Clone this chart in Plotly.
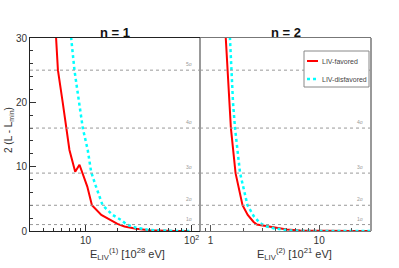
import math
import plotly.graph_objects as go

W, H = 399, 268

# ---- data ----
n1_fav_x = [5.2, 5.3, 5.5, 6.1, 6.6, 7.06, 8.0, 8.78, 10.4, 11.5, 14.1, 16.1, 20.0, 23.3, 30.0, 40.0, 50.0, 70.0, 95.0]
n1_fav_y = [32.0, 30.0, 25.0, 20.0, 16.0, 12.6, 9.2, 10.3, 6.9, 4.0, 2.5, 2.0, 1.1, 0.7, 0.35, 0.12, 0.03, 0.0, 0.0]
n1_dis_x = [7.2, 7.33, 7.87, 8.65, 9.43, 10.5, 11.3, 12.5, 14.5, 18.0, 21.7, 24.5, 30.0, 40.0, 55.0, 70.0, 95.0]
n1_dis_y = [32.0, 30.0, 25.0, 20.0, 16.0, 12.6, 9.2, 7.0, 4.0, 2.5, 1.7, 1.0, 0.5, 0.15, 0.03, 0.0, 0.0]

n2_fav_x = [1.36, 1.38, 1.43, 1.48, 1.54, 1.70, 1.97, 2.2, 2.48, 2.67, 3.0, 3.54, 4.4, 5.05, 6.7, 10.0, 20.0, 30.0]
n2_fav_y = [32.0, 30.0, 25.0, 20.0, 16.0, 9.0, 4.0, 2.5, 1.45, 1.0, 0.85, 0.67, 0.35, 0.23, 0.08, 0.02, 0.0, 0.0]
n2_dis_x = [1.49, 1.51, 1.54, 1.61, 1.68, 1.87, 2.19, 2.5, 2.86, 3.3, 3.8, 4.5, 5.4, 8.0, 15.0, 30.0]
n2_dis_y = [32.0, 30.0, 25.0, 20.0, 16.0, 9.0, 4.0, 2.3, 1.2, 0.7, 0.42, 0.2, 0.08, 0.02, 0.0, 0.0]

sigma_levels = [1, 4, 9, 16, 25]
sigma_labels = ["1σ", "2σ", "3σ", "4σ", "5σ"]

x1_range = [3, 120]
x2_range = [0.8, 30]
y_range = [0, 30]

x1_major = [10, 100]
x1_major_text = ["10", "10<sup>2</sup>"]
x1_minor = [3, 4, 5, 6, 7, 8, 9, 20, 30, 40, 50, 60, 70, 80, 90]
x2_major = [1, 10]
x2_major_text = ["1", "10"]
x2_minor = [0.9, 2, 3, 4, 5, 6, 7, 8, 9, 20, 30]

series_names = ["LIV-favored", "LIV-disfavored"]
RED = "#ff0000"
CYAN = "#00ffff"
FONT = "Liberation Sans, Arial, sans-serif"


def px(x):
    return x / W


def py(y):
    return (H - y) / H


fig = go.Figure()
fig.add_trace(go.Scatter(x=n1_fav_x, y=n1_fav_y, mode="lines", name=series_names[0],
                         line=dict(color=RED, width=2), xaxis="x", yaxis="y", showlegend=False))
fig.add_trace(go.Scatter(x=n1_dis_x, y=n1_dis_y, mode="lines", name=series_names[1],
                         line=dict(color=CYAN, width=2.5, dash="dot"), xaxis="x", yaxis="y", showlegend=False))
fig.add_trace(go.Scatter(x=n2_fav_x, y=n2_fav_y, mode="lines", name=series_names[0],
                         line=dict(color=RED, width=2), xaxis="x2", yaxis="y2", showlegend=False))
fig.add_trace(go.Scatter(x=n2_dis_x, y=n2_dis_y, mode="lines", name=series_names[1],
                         line=dict(color=CYAN, width=2.5, dash="dot"), xaxis="x2", yaxis="y2", showlegend=False))

ydom = [py(231), py(38)]
tickfont = dict(family=FONT, size=10, color="#333")

fig.update_layout(
    width=W, height=H, margin=dict(l=0, r=0, t=0, b=0, autoexpand=False), autosize=False,
    paper_bgcolor="white", plot_bgcolor="white",
    xaxis=dict(domain=[px(30), px(200)], type="log",
               range=[math.log10(x1_range[0]), math.log10(x1_range[1])],
               tickmode="array", tickvals=x1_major, ticktext=x1_major_text,
               ticks="inside", ticklen=6, tickcolor="#333", tickfont=tickfont,
               minor=dict(tickmode="array", tickvals=x1_minor, ticks="inside", ticklen=3, tickcolor="#333"),
               showline=True, linecolor="#222", linewidth=1, mirror=True,
               showgrid=False, zeroline=False, anchor="y", automargin=False),
    yaxis=dict(domain=ydom, range=y_range, dtick=10, tick0=0,
               ticks="inside", ticklen=6, tickcolor="#333", tickfont=tickfont,
               minor=dict(dtick=2, ticks="inside", ticklen=3, tickcolor="#333"),
               showline=True, linecolor="#222", linewidth=1, mirror=False,
               showgrid=False, zeroline=False, anchor="x", automargin=False),
    xaxis2=dict(domain=[px(200), px(371)], type="log",
                range=[math.log10(x2_range[0]), math.log10(x2_range[1])],
                tickmode="array", tickvals=x2_major, ticktext=x2_major_text,
                ticks="inside", ticklen=6, tickcolor="#555", tickfont=tickfont,
                minor=dict(tickmode="array", tickvals=x2_minor, ticks="inside", ticklen=3, tickcolor="#555"),
                showline=True, linecolor="#777", linewidth=1, mirror=True,
                showgrid=False, zeroline=False, anchor="y2", automargin=False),
    yaxis2=dict(domain=ydom, range=y_range, showticklabels=False, ticks="",
                showline=False, showgrid=False, zeroline=False, anchor="x2", automargin=False),
)

shapes = []
annotations = []
for xr, yr, lx, skip in [("x domain", "y", 0.94, None), ("x2 domain", "y2", 0.94, 25)]:
    for lev, lab in zip(sigma_levels, sigma_labels):
        shapes.append(dict(type="line", xref=xr, yref=yr, x0=0, x1=1, y0=lev, y1=lev,
                           line=dict(color="#999", width=1, dash="dot")))
        if lev == skip:  # hidden behind the legend box in the reference
            continue
        annotations.append(dict(xref=xr, yref=yr, x=lx, y=lev, text=lab, showarrow=False,
                                xanchor="center", yanchor="bottom", yshift=1,
                                font=dict(family=FONT, size=5, color="#999")))

# panel separator & right frame
for xv in [0, 1]:
    shapes.append(dict(type="line", xref="x2 domain", yref="y2 domain", x0=xv, x1=xv, y0=0, y1=1,
                       line=dict(color="#999", width=2)))

# manual legend
shapes.append(dict(type="rect", xref="paper", yref="paper", x0=px(304), x1=px(369), y0=py(87), y1=py(51),
                   line=dict(color="#888", width=1), fillcolor="white"))
shapes.append(dict(type="line", xref="paper", yref="paper", x0=px(307), x1=px(318), y0=py(61), y1=py(61),
                   line=dict(color=RED, width=2)))
shapes.append(dict(type="line", xref="paper", yref="paper", x0=px(307), x1=px(318), y0=py(79), y1=py(79),
                   line=dict(color=CYAN, width=2.5, dash="dot")))
for name, yy in zip(series_names, [61, 79]):
    annotations.append(dict(xref="paper", yref="paper", x=px(320), y=py(yy), text=name, showarrow=False,
                            xanchor="left", yanchor="middle", font=dict(family=FONT, size=7, color="#444")))

# titles
annotations.append(dict(xref="paper", yref="paper", x=px(115), y=py(32), text="<b>n = 1</b>", showarrow=False,
                        xanchor="center", yanchor="middle", font=dict(family=FONT, size=13, color="#111")))
annotations.append(dict(xref="paper", yref="paper", x=px(286), y=py(32), text="<b>n = 2</b>", showarrow=False,
                        xanchor="center", yanchor="middle", font=dict(family=FONT, size=13, color="#111")))
annotations.append(dict(xref="paper", yref="paper", x=px(9), y=py(130), text="2 (L - L<sub>min</sub>)",
                        textangle=-90, showarrow=False, xanchor="center", yanchor="middle",
                        font=dict(family=FONT, size=10, color="#333")))
annotations.append(dict(xref="paper", yref="paper", x=px(127), y=py(254),
                        text="E<sub>LIV</sub><sup>(1)</sup> [10<sup>28</sup> eV]", showarrow=False,
                        xanchor="center", yanchor="middle",
                        font=dict(family=FONT, size=11, color="#333")))
annotations.append(dict(xref="paper", yref="paper", x=px(294), y=py(254),
                        text="E<sub>LIV</sub><sup>(2)</sup> [10<sup>21</sup> eV]", showarrow=False,
                        xanchor="center", yanchor="middle",
                        font=dict(family=FONT, size=11, color="#333")))

fig.update_layout(shapes=shapes, annotations=annotations)
fig.write_html("out.html", config={"displayModeBar": False},
               post_script="document.body.style.margin='0';document.body.style.overflow='hidden';")
